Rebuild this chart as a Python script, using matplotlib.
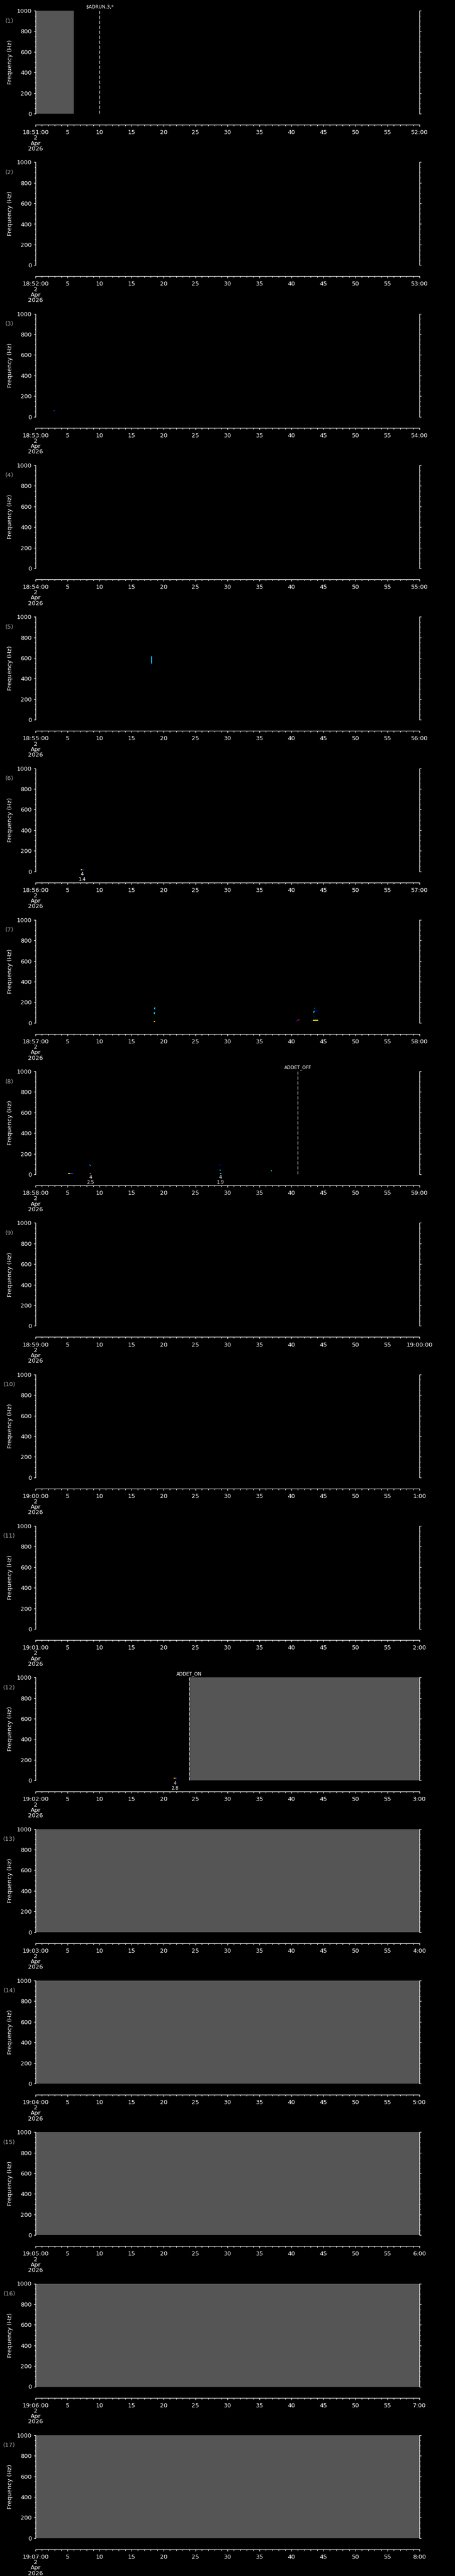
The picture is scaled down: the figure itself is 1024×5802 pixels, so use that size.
import matplotlib
matplotlib.use("Agg")
import matplotlib.pyplot as plt
from matplotlib.ticker import MultipleLocator

# ---- panel time labels ---------------------------------------------------
START_LABELS = ["18:51:00", "18:52:00", "18:53:00", "18:54:00", "18:55:00",
                "18:56:00", "18:57:00", "18:58:00", "18:59:00", "19:00:00",
                "19:01:00", "19:02:00", "19:03:00", "19:04:00", "19:05:00",
                "19:06:00", "19:07:00"]
END_LABELS = ["52:00", "53:00", "54:00", "55:00", "56:00", "57:00", "58:00",
              "59:00", "19:00:00", "1:00", "2:00", "3:00", "4:00", "5:00",
              "6:00", "7:00", "8:00"]
DATE_LINES = ["2", "Apr", "2026"]

# ---- gray (no data) spans: panel, start s, end s --------------------------
GRAY_PANEL = [1, 12, 13, 14, 15, 16, 17]
GRAY_T0 = [0, 24, 0, 0, 0, 0, 0]
GRAY_T1 = [6, 60, 60, 60, 60, 60, 60]

# ---- event markers ---------------------------------------------------------
EVENT_PANEL = [1, 8, 12]
EVENT_T = [10.0, 41.0, 24.0]
EVENT_TEXT = ["$ADRUN,3,*", "ADDET_OFF", "ADDET_ON"]

# ---- detected spectral fragments: panel, t0, t1, f0, f1, colour -----------
SPOT_PANEL = [3,
              5, 5,
              6, 6,
              7, 7, 7, 7, 7, 7, 7, 7, 7, 7, 7, 7,
              8, 8, 8, 8, 8, 8, 8, 8, 8,
              12, 12, 12]
SPOT_T0 = [2.8,
           18.1, 18.05,
           7.1, 7.25,
           18.6, 18.55, 18.5, 18.5, 40.7, 40.95, 43.6, 43.55, 43.45, 43.45, 43.3, 43.2,
           5.1, 5.4, 8.4, 8.5, 8.5, 28.7, 28.8, 28.85, 36.8,
           21.5, 21.7, 21.9]
SPOT_T1 = [3.0,
           18.1, 18.15,
           7.25, 7.5,
           18.65, 18.6, 18.55, 18.7, 40.95, 41.25, 43.7, 44.2, 43.55, 43.6, 44.2, 43.2,
           5.4, 5.9, 8.6, 8.6, 8.65, 29.0, 28.9, 29.0, 36.95,
           21.7, 21.9, 22.1]
SPOT_F0 = [55,
           545, 545,
           17, 17,
           132, 85, 100, 13, 17, 23, 142, 116, 97, 59, 26, 17,
           7, 7, 97, 88, 11, 89, 46, 11, 33,
           21, 21, 21]
SPOT_F1 = [62,
           617, 545,
           17, 17,
           150, 105, 105, 13, 23, 33, 142, 116, 116, 59, 26, 26,
           7, 7, 88, 86, 11, 89, 36, 11, 33,
           21, 21, 21]
SPOT_COLOR = ["#0040ff",
              "#00c8ff", "#0000ff",
              "#ffff00", "#0030ff",
              "#00e0ff", "#00e0ff", "#0040ff", "#ffc000", "#0000ff", "#ff0000",
              "#00e0ff", "#0000ff", "#00ff90", "#0000ff", "#f0ff00", "#0030ff",
              "#ffd000", "#0030ff", "#0030ff", "#00ffff", "#ff6000", "#0000ff",
              "#00ffff", "#00ffff", "#00ffff",
              "#ff2000", "#ffe000", "#0030ff"]

# ---- numeric annotations under fragments -----------------------------------
ANN_PANEL = [6, 8, 8, 12]
ANN_T = [7.3, 8.6, 28.9, 21.8]
ANN_TOP = ["4", "4", "4", "4"]
ANN_BOT = ["1.4", "2.5", "1.9", "2.8"]

W, H = 1024, 5802
LEFT, AX_W, AX_H, TOP0, STEP = 80, 864, 232, 24, 341.3
GRAY = "#555555"
FS = 9.5

fig = plt.figure(figsize=(W / 100, H / 100), dpi=100, facecolor="black")

for i in range(len(START_LABELS)):
    top = TOP0 + i * STEP
    ax = fig.add_axes([LEFT / W, 1 - (top + AX_H) / H, AX_W / W, AX_H / H])
    ax.set_facecolor("black")
    ax.set_xlim(0, 60)
    ax.set_ylim(0, 1000)
    panel = i + 1

    for p, t0, t1 in zip(GRAY_PANEL, GRAY_T0, GRAY_T1):
        if p == panel:
            ax.axvspan(t0, t1, facecolor=GRAY, edgecolor="none", lw=0,
                       antialiased=False, zorder=1)

    for p, t0, t1, f0, f1, c in zip(SPOT_PANEL, SPOT_T0, SPOT_T1, SPOT_F0,
                                    SPOT_F1, SPOT_COLOR):
        if p == panel:
            ax.plot([t0, t1], [f0, f1], color=c, lw=1.4, zorder=3,
                    solid_capstyle="butt")

    for p, t, txt in zip(EVENT_PANEL, EVENT_T, EVENT_TEXT):
        if p == panel:
            ax.axvline(t, color="white", lw=0.9, dashes=(6, 3), zorder=4)
            ax.text(t, 1.035, txt, transform=ax.get_xaxis_transform(),
                    color="white", fontsize=7.5, ha="center", va="center",
                    parse_math=False)

    for p, t, a, b in zip(ANN_PANEL, ANN_T, ANN_TOP, ANN_BOT):
        if p == panel:
            ax.annotate(a, (t, 0), xycoords=("data", "axes fraction"),
                        xytext=(0, -5), textcoords="offset points",
                        color="white", fontsize=7.5, ha="center", va="center")
            ax.annotate(b, (t, 0), xycoords=("data", "axes fraction"),
                        xytext=(0, -13), textcoords="offset points",
                        color="white", fontsize=7.5, ha="center", va="center")

    # axes styling (IDL-like: detached time axis, outward ticks)
    ax.spines["top"].set_visible(False)
    for s in ("left", "right", "bottom"):
        ax.spines[s].set_color("white")
        ax.spines[s].set_linewidth(0.9)
    ax.spines["bottom"].set_position(("outward", 18))
    ax.spines["bottom"].set_bounds(0, 60)

    ax.set_yticks(range(0, 1001, 200))
    ax.yaxis.set_minor_locator(MultipleLocator(50))
    ax.tick_params(axis="y", which="both", direction="out", left=True,
                   right=True, colors="white", labelsize=FS, pad=3, width=0.9)
    ax.tick_params(axis="y", which="major", length=3)
    ax.tick_params(axis="y", which="minor", length=1.6)

    xt = list(range(0, 61, 5))
    xl = ["\n".join([START_LABELS[i]] + DATE_LINES)] + \
         [str(v) for v in xt[1:-1]] + [END_LABELS[i]]
    ax.set_xticks(xt)
    ax.set_xticklabels(xl, linespacing=0.92)
    ax.xaxis.set_minor_locator(MultipleLocator(1))
    ax.tick_params(axis="x", which="both", direction="out", colors="white",
                   labelsize=FS, pad=5, width=0.9)
    ax.tick_params(axis="x", which="major", length=3)
    ax.tick_params(axis="x", which="minor", length=1.8)

    fig.text(21 / W, 1 - (top + 23) / H, f"({panel})", color="#aaaaaa",
             fontsize=FS, ha="center", va="center")
    fig.text(23 / W, 1 - (top + AX_H / 2) / H, "Frequency (Hz)",
             color="white", fontsize=FS, rotation=90, ha="center",
             va="center")

fig.savefig("out.png", dpi=100, facecolor="black")
